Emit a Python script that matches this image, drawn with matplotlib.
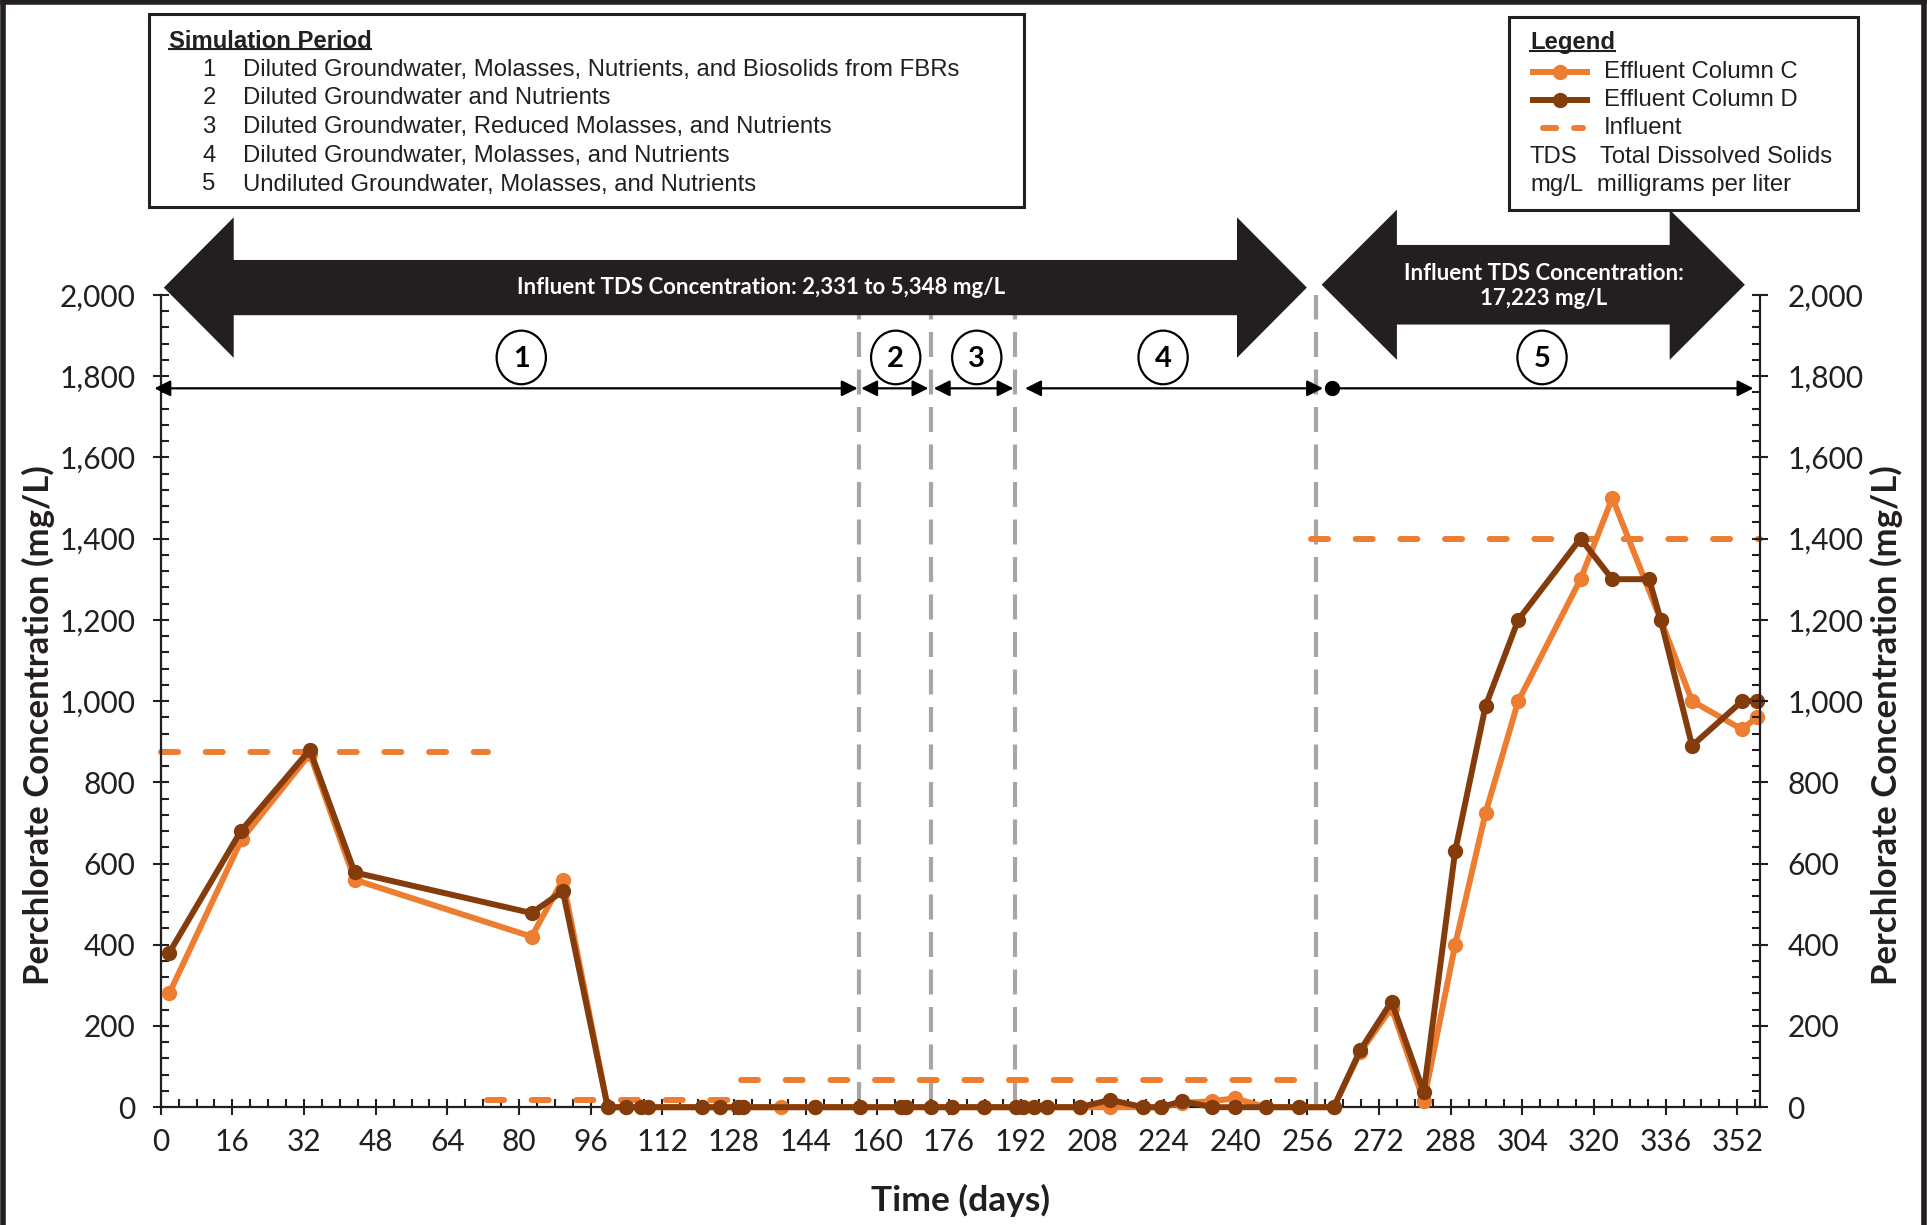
import matplotlib
matplotlib.use("Agg")
import matplotlib.pyplot as plt
from matplotlib.patches import Polygon, Ellipse
from matplotlib.lines import Line2D
from matplotlib.ticker import MultipleLocator, FuncFormatter
import numpy as np

# ---------------- data ----------------
days_C = [1.9, 18.1, 33.3, 43.3, 82.8, 89.8, 99.8, 103.8, 107.2, 108.9, 120.9, 124.9,
          128.9, 130.0, 138.5, 146.0, 156.2, 165.3, 166.4, 171.9, 176.7, 183.8, 190.9,
          192.6, 194.9, 197.8, 205.2, 212.0, 219.4, 223.4, 228.0, 234.8, 239.9, 246.7,
          254.1, 261.9, 267.8, 274.8, 282.0, 289.0, 295.8, 303.1, 317.0, 324.1, 334.9,
          341.9, 353.1, 356.3]
conc_C = [280, 660, 870, 560, 420, 560, 0, 0, 0, 0, 0, 0,
          0, 0, 0, 0, 0, 0, 0, 0, 0, 0, 0,
          0, 0, 0, 0, 0, 0, 0, 10, 15, 22, 0,
          0, 0, 135, 245, 15, 400, 725, 1000, 1300, 1500, 1200,
          1000, 930, 960]

days_D = [1.9, 17.9, 33.3, 43.3, 82.8, 89.8, 99.8, 103.8, 107.2, 108.9, 120.9, 124.9,
          128.9, 130.0, 146.0, 156.2, 165.3, 166.4, 171.9, 176.7, 183.8, 190.9,
          192.6, 194.9, 197.8, 205.2, 212.0, 219.4, 223.4, 228.0, 234.8, 239.9, 246.7,
          254.1, 261.9, 267.8, 274.8, 282.0, 289.0, 295.8, 303.1, 317.0, 324.1, 332.3,
          334.9, 341.9, 353.1, 356.3]
conc_D = [380, 680, 880, 578, 478, 532, 0, 0, 0, 0, 0, 0,
          0, 0, 0, 0, 0, 0, 0, 0, 0, 0,
          0, 0, 0, 0, 18, 0, 0, 15, 0, 0, 0,
          0, 0, 140, 260, 37, 630, 988, 1200, 1400, 1300, 1300,
          1200, 890, 1000, 1000]

# influent segments: (start day, end day, concentration)
influent_start = [0.0, 72.8, 129.5, 256.8]
influent_end = [73.0, 129.4, 257.3, 357.0]
influent_conc = [875, 18, 68, 1400]

# simulation period boundaries (days)
period_bounds = [156.0, 171.9, 190.8, 257.9]
period_labels = ["1", "2", "3", "4", "5"]
period_label_days = [80.5, 164.1, 182.2, 223.8, 308.4]

x_ticks = list(range(0, 353, 16))
y_ticks = list(range(0, 2001, 200))

sim_period_items = [
    "Diluted Groundwater, Molasses, Nutrients, and Biosolids from FBRs",
    "Diluted Groundwater and Nutrients",
    "Diluted Groundwater, Reduced Molasses, and Nutrients",
    "Diluted Groundwater, Molasses, and Nutrients",
    "Undiluted Groundwater, Molasses, and Nutrients",
]

ORANGE = "#ED7D31"
BROWN = "#843C0C"
GRAY = "#A6A6A6"
BLACK = "#231F20"

plt.rcParams["font.family"] = ["Lato", "DejaVu Sans"]

W, H = 1927, 1225
fig = plt.figure(figsize=(W / 100, H / 100), dpi=100)
L, R, B, T = 160.7, 1759.7, 1107.2, 294.9
ax = fig.add_axes([L / W, 1 - B / H, (R - L) / W, (B - T) / H])

ax.set_xlim(0, 357)
ax.set_ylim(0, 2000)

# gray period boundaries
for xb in period_bounds:
    ax.plot([xb, xb], [0, 2000], color=GRAY, lw=3.0, dashes=(6, 3), zorder=1,
            clip_on=False)

# influent
for xs, xe, c in zip(influent_start, influent_end, influent_conc):
    ax.plot([xs, xe], [c, c], color=ORANGE, lw=4.3, dashes=(2.85, 4.63),
            dash_capstyle="round", zorder=2, clip_on=False)

ax.plot(days_C, conc_C, color=ORANGE, lw=4.3, marker="o", ms=10, zorder=3,
        clip_on=False, solid_joinstyle="round")
ax.plot(days_D, conc_D, color=BROWN, lw=4.3, marker="o", ms=10, zorder=4,
        clip_on=False, solid_joinstyle="round")

# big TDS arrows
def block_arrow(x0, x1, head_len, yc, shaft_half, head_half):
    return [(x0, yc), (x0 + head_len, yc + head_half), (x0 + head_len, yc + shaft_half),
            (x1 - head_len, yc + shaft_half), (x1 - head_len, yc + head_half), (x1, yc),
            (x1 - head_len, yc - head_half), (x1 - head_len, yc - shaft_half),
            (x0 + head_len, yc - shaft_half), (x0 + head_len, yc - head_half)]

ax.add_patch(Polygon(block_arrow(0.7, 255.9, 15.6, 2018, 68, 173), closed=True,
                     facecolor=BLACK, edgecolor="none", zorder=6, clip_on=False))
ax.add_patch(Polygon(block_arrow(259.2, 353.7, 16.8, 2025, 98, 185), closed=True,
                     facecolor=BLACK, edgecolor="none", zorder=6, clip_on=False))
ax.text(134, 2018, "Influent TDS Concentration: 2,331 to 5,348 mg/L", color="white",
        fontsize=16, fontweight="bold", ha="center", va="center", zorder=7)
ax.text(308.8, 2022, "Influent TDS Concentration:\n17,223 mg/L", color="white",
        fontsize=16, fontweight="bold", ha="center", va="center", zorder=7,
        linespacing=1.25)

# period arrows
yarr = 1770
segs = [(-1.4, 155.6, "<|-|>"), (156.4, 171.4, "<|-|>"), (172.6, 190.4, "<|-|>"),
        (193.0, 259.5, "<|-|>"), (261.4, 355.6, "-|>")]
for xs, xe, st in segs:
    ax.annotate("", xy=(xe, yarr), xytext=(xs, yarr), annotation_clip=False,
                arrowprops=dict(arrowstyle=st, color="black", lw=1.6,
                                mutation_scale=24, shrinkA=0, shrinkB=0),
                zorder=8)
ax.plot([261.4], [yarr], marker="o", color="black", ms=10, zorder=9, clip_on=False)

for lab, xd in zip(period_labels, period_label_days):
    ax.add_patch(Ellipse((xd, 1846), 11.0, 132, facecolor="white", edgecolor="black",
                         lw=1.6, zorder=8, clip_on=False))
    ax.text(xd, 1843, lab, fontsize=21, fontweight="bold", ha="center", va="center",
            zorder=9)

# axes styling
for s in ["top", "right"]:
    ax.spines[s].set_visible(False)
for s in ["left", "bottom"]:
    ax.spines[s].set_linewidth(1.6)
    ax.spines[s].set_color(BLACK)

ax.set_xticks(x_ticks)
ax.xaxis.set_minor_locator(MultipleLocator(4))
ax.set_yticks(y_ticks)
ax.yaxis.set_minor_locator(MultipleLocator(40))
fmt = FuncFormatter(lambda v, p: f"{v:,.0f}")
ax.yaxis.set_major_formatter(fmt)
ax.tick_params(which="major", direction="inout", length=12, width=1.5,
               labelsize=21.5, colors=BLACK)
ax.tick_params(which="minor", direction="in", length=5.5, width=1.5, colors=BLACK)
ax.tick_params(axis="x", which="major", pad=9)
ax.tick_params(axis="y", which="major", pad=12)

ax.set_xlabel("Time (days)", fontsize=25.5, fontweight="bold", color=BLACK)
ax.xaxis.set_label_coords(0.5, -0.095)
ax.set_ylabel("Perchlorate Concentration (mg/L)", fontsize=25, fontweight="bold",
              color=BLACK)
ax.yaxis.set_label_coords(-0.066, 0.47)

ax2 = ax.twinx()
ax2.set_ylim(0, 2000)
for s in ["top", "left", "bottom"]:
    ax2.spines[s].set_visible(False)
ax2.spines["right"].set_linewidth(1.6)
ax2.spines["right"].set_color(BLACK)
ax2.set_yticks(y_ticks)
ax2.yaxis.set_minor_locator(MultipleLocator(40))
ax2.yaxis.set_major_formatter(fmt)
ax2.tick_params(which="major", direction="inout", length=12, width=1.5,
                labelsize=21.5, colors=BLACK, pad=14)
ax2.tick_params(which="minor", direction="in", length=5.5, width=1.5, colors=BLACK)
ax2.set_ylabel("Perchlorate Concentration (mg/L)", fontsize=25, fontweight="bold",
               color=BLACK)
ax2.yaxis.set_label_coords(1.069, 0.47)

# ---------------- boxes ----------------
def fx(px):
    return px / W

def fy(py):
    return 1 - py / H

def frame(x0, y0, x1, y1):
    fig.add_artist(plt.Rectangle((fx(x0), fy(y1)), fx(x1) - fx(x0), fy(y0) - fy(y1),
                                 transform=fig.transFigure, facecolor="white",
                                 edgecolor=BLACK, lw=2.2, zorder=1))

BOXFONT = ["Liberation Sans", "DejaVu Sans"]
FS = 17.2
frame(148.6, 14, 1024, 206.7)
t1 = fig.text(fx(168.7), fy(41), "Simulation Period", fontsize=FS, fontweight="bold",
              family=BOXFONT, va="center", ha="left", color=BLACK, zorder=2)
rows_y = [70, 98.5, 127, 156, 184.5]
for i, (item, yy) in enumerate(zip(sim_period_items, rows_y)):
    fig.text(fx(209), fy(yy), str(i + 1), fontsize=FS, family=BOXFONT, va="center",
             ha="center", color=BLACK, zorder=2)
    fig.text(fx(243.3), fy(yy), item, fontsize=FS, family=BOXFONT, va="center",
             ha="left", color=BLACK, zorder=2)

frame(1509.3, 17.3, 1858.3, 210)
t2 = fig.text(fx(1530), fy(43), "Legend", fontsize=FS, fontweight="bold",
              family=BOXFONT, va="center", ha="left", color=BLACK, zorder=2)
leg_y = [71.7, 100, 128.3, 156.7, 185]
fig.add_artist(Line2D([fx(1533), fx(1587)], [fy(leg_y[0])] * 2, color=ORANGE, lw=4.3,
                      transform=fig.transFigure, zorder=3))
fig.add_artist(Line2D([fx(1560)], [fy(leg_y[0])], color=ORANGE, marker="o", ms=10,
                      transform=fig.transFigure, zorder=3))
fig.add_artist(Line2D([fx(1533), fx(1587)], [fy(leg_y[1])] * 2, color=BROWN, lw=4.3,
                      transform=fig.transFigure, zorder=3))
fig.add_artist(Line2D([fx(1560)], [fy(leg_y[1])], color=BROWN, marker="o", ms=10,
                      transform=fig.transFigure, zorder=3))
fig.add_artist(Line2D([fx(1543), fx(1583)], [fy(leg_y[2])] * 2, color=ORANGE, lw=4.3,
                      dashes=(2.2, 3.0), dash_capstyle="round",
                      transform=fig.transFigure, zorder=3))
for lab, yy in zip(["Effluent Column C", "Effluent Column D", "Influent"], leg_y[:3]):
    fig.text(fx(1604), fy(yy), lab, fontsize=FS, family=BOXFONT, va="center",
             ha="left", color=BLACK, zorder=3)
fig.text(fx(1530), fy(leg_y[3]), "TDS", fontsize=FS, family=BOXFONT, va="center",
         ha="left", color=BLACK, zorder=3)
fig.text(fx(1600), fy(leg_y[3]), "Total Dissolved Solids", fontsize=FS, family=BOXFONT,
         va="center", ha="left", color=BLACK, zorder=3)
fig.text(fx(1530), fy(leg_y[4]), "mg/L", fontsize=FS, family=BOXFONT, va="center",
         ha="left", color=BLACK, zorder=3)
fig.text(fx(1596.7), fy(leg_y[4]), "milligrams per liter", fontsize=FS, family=BOXFONT,
         va="center", ha="left", color=BLACK, zorder=3)

# figure border (left, top, right)
for xs, ys in [([0.0015, 0.0015], [0, 0.998]), ([0.0015, 0.9985], [0.998, 0.998]),
               ([0.9985, 0.9985], [0, 0.998])]:
    fig.add_artist(Line2D(xs, ys, color=BLACK, lw=4, transform=fig.transFigure))

# underline titles
fig.canvas.draw()
rend = fig.canvas.get_renderer()
inv = fig.transFigure.inverted()
for t in (t1, t2):
    bb = t.get_window_extent(rend)
    (x0, y0), (x1, y1) = inv.transform([(bb.x0, bb.y0), (bb.x1, bb.y1)])
    yl = y0 + (y1 - y0) * 0.14
    fig.add_artist(Line2D([x0, x1], [yl, yl], color=BLACK, lw=1.5,
                          transform=fig.transFigure, zorder=3))

fig.savefig("out.png", dpi=100)
